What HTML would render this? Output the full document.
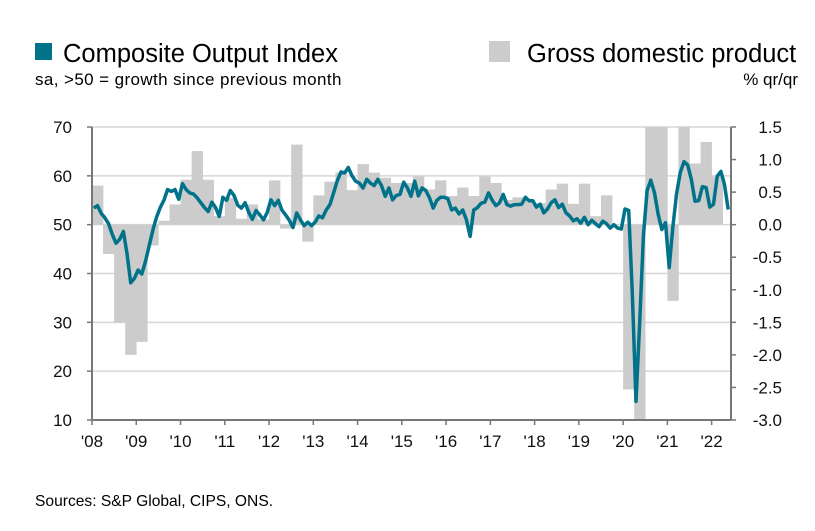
<!DOCTYPE html>
<html><head><meta charset="utf-8"><style>
body{margin:0;background:#fff;width:815px;height:531px;overflow:hidden;font-family:"Liberation Sans",sans-serif;color:#111}
svg{position:absolute;left:0;top:0}
</style></head><body>
<svg width="815" height="531">
<g id="grid"></g>
<g id="bars"></g>
<path id="line" fill="none" stroke="#00728a" stroke-width="3.5" stroke-linejoin="round"/>
<g id="axes"></g>
<rect x="35" y="43" width="17" height="17" fill="#00728a"/>
<text x="63" y="62" font-size="25.5">Composite Output Index</text>
<text x="35" y="85" font-size="17" letter-spacing="0.4">sa, &gt;50 = growth since previous month</text>
<rect x="489" y="41" width="21" height="21" fill="#cccccc"/>
<text x="527" y="62" font-size="25.5">Gross domestic product</text>
<text x="798" y="85" font-size="17" text-anchor="end">% qr/qr</text>
<text x="35" y="506" font-size="15.6">Sources: S&amp;P Global, CIPS, ONS.</text>
</svg>
<script>
const pmi=[53.4,53.9,52.3,51.4,50.2,48.0,46.2,47.0,48.6,44.1,38.1,39.0,
40.7,39.9,42.5,45.7,48.9,51.5,53.5,55.0,57.2,56.8,57.2,55.2,
58.4,57.2,56.5,56.3,55.5,54.5,53.5,52.7,54.6,53.5,51.7,55.6,
55.0,57.0,56.0,54.0,53.4,54.5,52.5,51.1,52.9,52.0,51.0,52.5,
55.1,53.9,55.0,53.0,52.0,50.9,49.4,52.4,51.0,49.8,50.5,49.8,
50.5,51.8,51.4,53.0,54.1,56.5,59.0,60.8,60.6,61.7,60.0,58.9,
58.5,57.5,59.3,58.5,58.0,59.3,58.0,55.8,57.5,55.1,56.0,56.2,
58.7,57.5,55.8,58.9,55.9,57.5,57.0,55.5,53.4,55.0,55.6,55.6,
55.3,53.0,53.4,52.2,53.0,51.0,47.6,53.0,53.5,54.4,54.6,56.5,
55.0,53.9,54.5,56.2,54.1,53.8,54.1,54.1,54.2,55.6,54.9,54.9,
53.6,54.2,52.4,53.2,54.5,55.1,53.5,54.2,52.4,51.8,50.8,51.2,
50.3,51.5,50.0,50.9,50.2,49.6,50.7,50.2,49.3,50.0,49.3,49.1,
53.2,52.9,36.0,13.8,30.0,47.7,57.0,59.1,56.5,52.1,49.0,50.4,
41.2,49.6,56.4,60.7,62.9,62.2,59.2,54.8,54.9,57.8,57.6,53.6,
54.2,59.9,60.9,58.2,53.1];
const gdp=[0.6,-0.45,-1.5,-2.0,-1.8,-0.32,0.06,0.31,0.69,1.13,0.69,0.13,0.41,0.09,0.31,0.08,
0.68,-0.06,1.23,-0.26,0.45,0.66,0.8,0.53,0.93,0.8,0.72,0.64,0.64,0.74,0.54,0.68,
0.44,0.57,0.44,0.74,0.64,0.38,0.42,0.38,0.33,0.54,0.63,0.32,0.63,0.13,0.45,0.0,
-2.53,-19.4,16.9,1.6,-1.17,5.6,0.94,1.27,0.74];
const leftTicks=[10,20,30,40,50,60,70];
const rightTicks=["1.5","1.0","0.5","0.0","-0.5","-1.0","-1.5","-2.0","-2.5","-3.0"];
const years=["'08","'09","'10","'11","'12","'13","'14","'15","'16","'17","'18","'19","'20","'21","'22"];
const X0=92,X1=731,YT=127,YB=420,YW=44.26;
const yL=v=>YB-(v-10)/60*(YB-YT);
const yR=v=>yL(50)-v*(yL(50)-YT)/1.5;
const xT=t=>X0+t*YW;
const NS="http://www.w3.org/2000/svg";
function mk(p,tag,a){const e=document.createElementNS(NS,tag);for(const k in a)e.setAttribute(k,a[k]);p.appendChild(e);return e;}
const grid=document.getElementById('grid'),bars=document.getElementById('bars'),axes=document.getElementById('axes');
leftTicks.forEach(v=>{
 const g=mk(grid,'line',{x1:X0,x2:X1,y1:yL(v),y2:yL(v),stroke:'#d6d6d6','stroke-width':1.5});
 
 
 const t=mk(axes,'text',{x:72,y:yL(v)+6,'font-size':17,'text-anchor':'end',fill:'#111'});
 t.textContent=v;
 
 
 mk(axes,'line',{x1:X0-5,x2:X0,y1:yL(v),y2:yL(v),stroke:'#777','stroke-width':1.5});
});
rightTicks.forEach(s=>{
 const v=parseFloat(s);
 mk(axes,'line',{x1:X1,x2:X1+5,y1:yR(v),y2:yR(v),stroke:'#777','stroke-width':1.5});
 const t=mk(axes,'text',{x:782,y:yR(v)+6,'font-size':17,'text-anchor':'end',fill:'#111'});
 t.textContent=s;
 
 
});
years.forEach((s,i)=>{
 mk(axes,'line',{x1:xT(i),x2:xT(i),y1:YB,y2:YB+5,stroke:'#777','stroke-width':1.5});
 const t=mk(axes,'text',{x:xT(i),y:447,'font-size':17,'text-anchor':'middle',fill:'#111'});
 t.textContent=s;
 
 
});
mk(axes,'line',{x1:X0,x2:X0,y1:YT,y2:YB,stroke:'#777','stroke-width':2});
mk(axes,'line',{x1:X1,x2:X1,y1:YT,y2:YB,stroke:'#777','stroke-width':2});
mk(axes,'line',{x1:X0,x2:X1,y1:YB,y2:YB,stroke:'#777','stroke-width':2});
gdp.forEach((v,q)=>{
 const c=Math.max(-3,Math.min(1.5,v));
 const y0=yR(0),y1=yR(c);
 const r=mk(bars,'rect',{x:xT(q/4),y:Math.min(y0,y1),width:YW/4+0.3,height:Math.abs(y1-y0),fill:'#cccccc'});
 
 
});
document.getElementById('line').setAttribute('d',pmi.map((v,i)=>(i?'L':'M')+xT((i+0.5)/12).toFixed(1)+','+yL(v).toFixed(1)).join(''));
</script>
</body></html>
